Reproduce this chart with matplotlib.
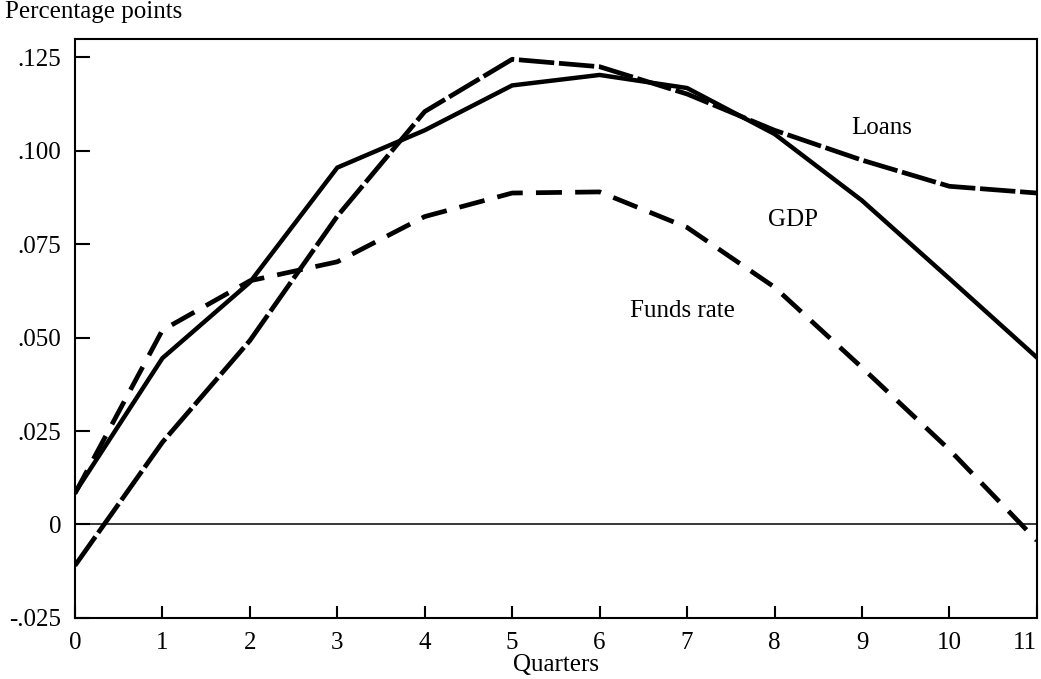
import numpy as np
import matplotlib
matplotlib.use("Agg")
import matplotlib.pyplot as plt

plt.rcParams['font.family'] = ['Liberation Serif', 'DejaVu Serif']

# === Data ===
quarters = np.arange(12)
gdp = [0.0085, 0.0445, 0.0648, 0.0955, 0.1055, 0.1175, 0.1203, 0.1168, 0.1045, 0.0867, 0.0658, 0.0447]
funds_rate = [0.0083, 0.0520, 0.0652, 0.0703, 0.0824, 0.0887, 0.0890, 0.0795, 0.0635, 0.0420, 0.0200, -0.0043]
loans = [-0.0110, 0.0220, 0.0492, 0.0825, 0.1105, 0.1245, 0.1225, 0.1152, 0.1055, 0.0975, 0.0905, 0.0887]

yticks = [-0.025, 0, 0.025, 0.050, 0.075, 0.100, 0.125]
ytick_labels = ['-.025', '0', '.025', '.050', '.075', '.100', '.125']

# === Figure ===
fig = plt.figure(figsize=(10.41, 6.79), dpi=100)
ax = fig.add_axes([0.072, 0.09, 0.924, 0.853])

ax.axhline(0, color='black', lw=1.1, zorder=1)

ax.plot(quarters, gdp, color='black', lw=3.2, solid_joinstyle='miter')
ax.plot(quarters, funds_rate, color='black', lw=3.4, dashes=(5.5, 2.8))
ax.plot(quarters, loans, color='black', lw=3.4, dashes=(7.5, 1.0))

ax.set_xlim(0, 11)
ax.set_ylim(-0.025, 0.13)
ax.set_xticks(quarters)
ax.set_yticks(yticks)
ax.set_yticklabels(ytick_labels)

ax.tick_params(axis='both', direction='in', labelsize=18, width=1.5,
               top=False, right=False)
ax.tick_params(axis='y', length=11, pad=10)
ax.tick_params(axis='x', length=9, pad=10)
for s in ax.spines.values():
    s.set_linewidth(1.5)

# last quarter label sits against the right edge
ax.get_xticklabels()[-1].set_horizontalalignment('right')

ax.set_xlabel('Quarters', fontsize=18, labelpad=0)

# series labels
ax.text(9.23, 0.1061, 'Loans', fontsize=18, ha='center', va='center')
ax.text(8.21, 0.0816, 'GDP', fontsize=18, ha='center', va='center')
ax.text(6.95, 0.0570, 'Funds rate', fontsize=18, ha='center', va='center')

fig.text(5 / 1041, 1 - 12 / 679, 'Percentage points', fontsize=18, ha='left', va='center')

fig.savefig('out.png', dpi=100)
